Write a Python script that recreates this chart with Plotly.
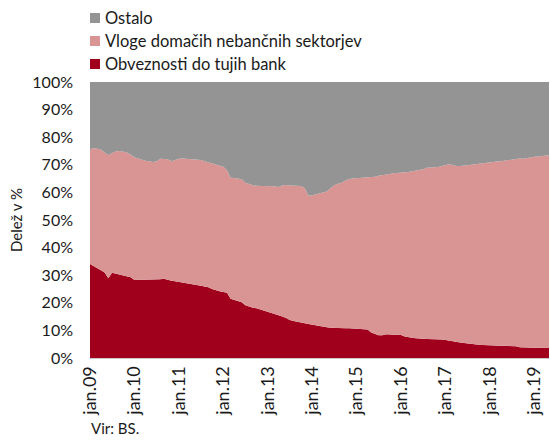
import pandas as pd
import plotly.graph_objects as go

# mesečni podatki, jan.2009 - maj.2019 (delež v %)
months = pd.date_range("2009-01-01", "2019-05-01", freq="MS")

obveznosti_tuje_banke = [
    34.1, 33.2, 32.5, 31.8, 31.0, 28.9, 30.9, 30.6, 30.4, 30.1, 29.8, 29.3,
    28.3, 28.3, 28.4, 28.4, 28.5, 28.5, 28.3, 28.5, 28.7, 28.3, 28.0, 27.8,
    27.6, 27.4, 27.2, 27.0, 26.7, 26.5, 26.2, 25.9, 25.6, 25.0, 24.5, 24.2,
    23.9, 23.6, 21.5, 21.1, 20.6, 20.2, 19.1, 18.6, 18.2, 18.0, 17.6, 17.2,
    16.8, 16.4, 15.9, 15.6, 15.0, 14.5, 13.8, 13.4, 13.2, 12.9, 12.6, 12.3,
    12.0, 11.7, 11.5, 11.3, 11.1, 11.0, 10.9, 10.9, 10.8, 10.8, 10.8, 10.7,
    10.8, 10.7, 10.6, 10.3, 9.2, 8.6, 8.2, 8.2, 8.6, 8.5, 8.4, 8.4,
    8.3, 7.8, 7.5, 7.3, 7.2, 7.0, 7.0, 6.9, 6.9, 6.8, 6.8, 6.7,
    6.5, 6.2, 6.0, 5.8, 5.6, 5.4, 5.2, 5.0, 4.9, 4.8, 4.7, 4.6,
    4.6, 4.6, 4.5, 4.4, 4.4, 4.3, 4.3, 4.3, 3.9, 3.8, 3.8, 3.7,
    3.7, 3.7, 3.6, 3.7, 3.7,
]

vloge_nebancni = [
    41.5, 42.8, 43.3, 43.7, 43.5, 44.6, 43.4, 44.2, 44.6, 44.7, 44.7, 44.3,
    44.4, 44.0, 43.4, 43.1, 42.8, 42.5, 42.9, 43.7, 43.4, 43.7, 43.3, 44.0,
    44.6, 44.9, 45.0, 45.1, 45.3, 45.4, 45.5, 45.4, 45.3, 45.5, 45.6, 45.5,
    45.4, 44.4, 43.8, 44.1, 44.4, 44.6, 44.4, 44.4, 44.4, 44.4, 44.7, 45.2,
    45.4, 45.9, 46.2, 46.4, 47.5, 48.2, 48.7, 49.0, 49.1, 49.4, 48.9, 46.5,
    47.0, 47.6, 48.1, 48.7, 49.2, 50.5, 51.7, 52.2, 52.7, 53.5, 54.1, 54.3,
    54.3, 54.5, 54.7, 55.1, 56.4, 57.1, 57.8, 58.1, 58.0, 58.2, 58.5, 58.7,
    58.9, 59.5, 59.9, 60.3, 60.7, 61.1, 61.4, 62.0, 62.1, 62.3, 62.4, 62.9,
    63.5, 64.0, 63.9, 63.8, 64.0, 64.3, 64.5, 65.0, 65.3, 65.6, 65.9, 66.1,
    66.2, 66.4, 66.7, 66.9, 67.1, 67.4, 67.6, 67.8, 68.4, 68.4, 68.7, 69.0,
    69.2, 69.3, 69.6, 69.7, 69.8,
]

ostalo = [
    24.4, 24.0, 24.2, 24.5, 25.5, 26.5, 25.7, 25.2, 25.0, 25.2, 25.5, 26.4,
    27.3, 27.7, 28.2, 28.5, 28.7, 29.0, 28.8, 27.8, 27.9, 28.0, 28.7, 28.2,
    27.8, 27.7, 27.8, 27.9, 28.0, 28.1, 28.3, 28.7, 29.1, 29.5, 29.9, 30.3,
    30.7, 32.0, 34.7, 34.8, 35.0, 35.2, 36.5, 37.0, 37.4, 37.6, 37.7, 37.6,
    37.8, 37.7, 37.9, 38.0, 37.5, 37.3, 37.5, 37.6, 37.7, 37.7, 38.5, 41.2,
    41.0, 40.7, 40.4, 40.0, 39.7, 38.5, 37.4, 36.9, 36.5, 35.7, 35.1, 35.0,
    34.9, 34.8, 34.7, 34.6, 34.4, 34.3, 34.0, 33.7, 33.4, 33.3, 33.1, 32.9,
    32.8, 32.7, 32.6, 32.4, 32.1, 31.9, 31.6, 31.1, 31.0, 30.9, 30.8, 30.4,
    30.0, 29.8, 30.1, 30.4, 30.4, 30.3, 30.3, 30.0, 29.8, 29.6, 29.4, 29.3,
    29.2, 29.0, 28.8, 28.7, 28.5, 28.3, 28.1, 27.9, 27.7, 27.8, 27.5, 27.3,
    27.1, 27.0, 26.8, 26.6, 26.5,
]

tick_dates = [f"{y}-01-01" for y in range(2009, 2020)]
tick_labels = ["jan.09", "jan.10", "jan.11", "jan.12", "jan.13", "jan.14",
               "jan.15", "jan.16", "jan.17", "jan.18", "jan.19"]

series = [
    ("Obveznosti do tujih bank", obveznosti_tuje_banke, "#A0001C"),
    ("Vloge domačih nebančnih sektorjev", vloge_nebancni, "#D99594"),
    ("Ostalo", ostalo, "#949494"),
]

FONT = "Lato, 'Noto Sans', sans-serif"
W, H = 550, 440
L, R, T, B = 90, 1, 82, 82
ph = H - T - B

fig = go.Figure()
for name, vals, col in series:
    fig.add_trace(go.Scatter(
        x=months, y=vals, name=name, mode="lines", stackgroup="one",
        line=dict(width=0, color=col), fillcolor=col, showlegend=False,
    ))

# legenda: kvadratki + besedilo (Ostalo zgoraj)
leg_y = [64, 41, 18]  # px od vrha
for (name, vals, col), ypx in zip(series, leg_y):
    yc = 1 + (T - ypx) / ph
    half = 5 / ph
    fig.add_shape(type="rect", xref="paper", yref="paper",
                  x0=0, x1=10 / (W - L - R), y0=yc - half, y1=yc + half,
                  fillcolor=col, line_width=0)
    fig.add_annotation(text=name, xref="paper", yref="paper",
                       x=13 / (W - L - R), y=yc, xanchor="left", yanchor="middle",
                       showarrow=False, font=dict(size=16.5))

fig.update_layout(
    width=W, height=H,
    paper_bgcolor="white", plot_bgcolor="white",
    font=dict(family=FONT, color="#1a1a1a", size=16),
    margin=dict(l=L, r=R, t=T, b=B, autoexpand=False),
    showlegend=False,
    xaxis=dict(
        range=[months[0], months[-1]], showgrid=False, zeroline=False,
        tickvals=tick_dates, ticktext=tick_labels, tickangle=-90,
        tickfont=dict(size=18), showline=True, linecolor="#c8c8c8", linewidth=1,
        ticks="", automargin=False,
    ),
    yaxis=dict(
        range=[0, 100], dtick=10, ticksuffix="%", showgrid=False, zeroline=False,
        tickfont=dict(size=16), ticks="", ticklabelstandoff=16, automargin=False,
        title=dict(text="Delež v %", font=dict(size=15), standoff=6),
    ),
)

fig.add_annotation(
    text="Vir: BS.", xref="paper", yref="paper", x=-0.002, y=-(428 - (H - B)) / ph,
    xanchor="left", yanchor="middle", showarrow=False, font=dict(size=15),
)

fig.write_html("out.html", config={"displayModeBar": False},
               post_script="document.body.style.margin='0';")
